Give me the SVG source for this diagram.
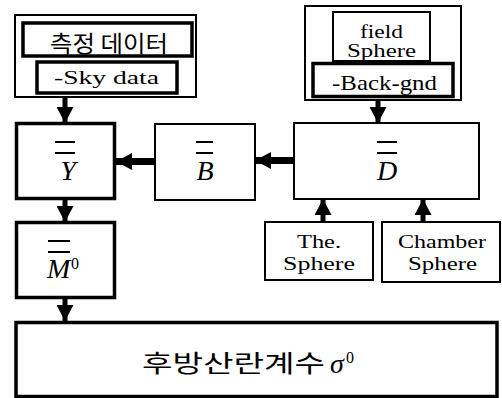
<svg xmlns="http://www.w3.org/2000/svg" width="502" height="398" viewBox="0 0 502 398">
<style>
.box{fill:#fff;stroke:#000}
.thin{stroke-width:2}
.thick{stroke-width:3.5}
.lat{font-family:"Liberation Serif","DejaVu Serif",serif;fill:#000}
.kr{font-family:"Noto Sans CJK KR",sans-serif;fill:#000}
.math{font-family:"Liberation Serif",serif;font-style:italic;fill:#000}
.bar{stroke:#000;stroke-width:2}
.conn{stroke:#000;fill:none}
</style>
<defs>
<marker id="ah" markerUnits="userSpaceOnUse" markerWidth="16" markerHeight="17" refX="16" refY="8.5" orient="auto" viewBox="0 0 16 17">
<path d="M0,0 L16,8.5 L0,17 z" fill="#000"/>
</marker>
</defs>
<g id="connectors">
<line class="conn" x1="65" y1="97" x2="65" y2="123" stroke-width="5" marker-end="url(#ah)"/>
<line class="conn" x1="378" y1="100" x2="378" y2="123" stroke-width="5" marker-end="url(#ah)"/>
<line class="conn" x1="155" y1="161.5" x2="116" y2="161.5" stroke-width="7" marker-end="url(#ah)"/>
<line class="conn" x1="294" y1="160.5" x2="255" y2="160.5" stroke-width="7" marker-end="url(#ah)"/>
<line class="conn" x1="65" y1="199" x2="65" y2="222" stroke-width="5" marker-end="url(#ah)"/>
<line class="conn" x1="65" y1="297" x2="65" y2="321" stroke-width="5" marker-end="url(#ah)"/>
<line class="conn" x1="323" y1="222" x2="323" y2="199" stroke-width="5" marker-end="url(#ah)"/>
<line class="conn" x1="423" y1="222" x2="423" y2="199" stroke-width="5" marker-end="url(#ah)"/>
</g>
<g id="sky-group">
<rect class="box thin" x="15" y="15" width="181" height="82"/>
<g id="measure">
<rect class="box thick" x="23" y="23" width="169" height="33"/>
<text class="kr" x="50" y="51.5" font-size="23" textLength="118" lengthAdjust="spacingAndGlyphs">측정 데이터</text>
</g>
<g id="sky">
<rect class="box thick" x="37" y="62" width="140" height="31"/>
<text class="lat" x="54" y="83.5" font-size="18" textLength="105" lengthAdjust="spacingAndGlyphs">-Sky data</text>
</g>
</g>
<g id="field-group">
<rect class="box thin" x="305" y="6" width="156" height="94"/>
<g id="field">
<rect class="box thin" x="333" y="12" width="97" height="49"/>
<text class="lat" x="360" y="38" font-size="18" textLength="43" lengthAdjust="spacingAndGlyphs">field</text>
<text class="lat" x="347" y="57" font-size="18" textLength="69" lengthAdjust="spacingAndGlyphs">Sphere</text>
</g>
<g id="back">
<rect class="box thick" x="313" y="63.5" width="140" height="33"/>
<text class="lat" x="332" y="90" font-size="21" textLength="105" lengthAdjust="spacingAndGlyphs">-Back-gnd</text>
</g>
</g>
<g id="Y">
<rect class="box thick" x="16.5" y="123.5" width="98" height="75"/>
<line class="bar" x1="55" y1="142" x2="75" y2="142"/>
<line class="bar" x1="55" y1="153" x2="75" y2="153"/>
<text class="math" x="68" y="180" font-size="28" text-anchor="middle">Y</text>
</g>
<g id="B">
<rect class="box thin" x="155" y="124" width="100" height="76"/>
<line class="bar" x1="196" y1="142" x2="213" y2="142"/>
<line class="bar" x1="196" y1="153" x2="213" y2="153"/>
<text class="math" x="205" y="180" font-size="28" text-anchor="middle">B</text>
</g>
<g id="D">
<rect class="box thin" x="294" y="123" width="185" height="76"/>
<line class="bar" x1="377" y1="142" x2="397" y2="142"/>
<line class="bar" x1="377" y1="153" x2="397" y2="153"/>
<text class="math" x="387" y="180" font-size="28" text-anchor="middle">D</text>
</g>
<g id="M">
<rect class="box thick" x="16.5" y="222.5" width="98" height="75"/>
<line class="bar" x1="48" y1="241" x2="70" y2="241"/>
<line class="bar" x1="48" y1="252" x2="70" y2="252"/>
<text class="math" x="47" y="278" font-size="28">M</text>
<text class="lat" x="71" y="269" font-size="16">0</text>
</g>
<g id="the">
<rect class="box thin" x="265" y="222" width="108" height="58"/>
<text class="lat" x="297" y="248" font-size="19" textLength="44" lengthAdjust="spacingAndGlyphs">The.</text>
<text class="lat" x="283" y="270" font-size="19" textLength="72" lengthAdjust="spacingAndGlyphs">Sphere</text>
</g>
<g id="chamber">
<rect class="box thin" x="382" y="222" width="118" height="60"/>
<text class="lat" x="398" y="248" font-size="19" textLength="88" lengthAdjust="spacingAndGlyphs">Chamber</text>
<text class="lat" x="408" y="270" font-size="19" textLength="69" lengthAdjust="spacingAndGlyphs">Sphere</text>
</g>
<g id="sigma">
<rect class="box thick" x="16" y="322.5" width="481" height="74"/>
<text class="kr" x="142" y="372" font-size="24" textLength="183" lengthAdjust="spacingAndGlyphs">후방산란계수</text>
<text class="math" x="330" y="373" font-size="28">σ</text>
<text class="lat" x="346" y="363" font-size="16">0</text>
</g>
</svg>
